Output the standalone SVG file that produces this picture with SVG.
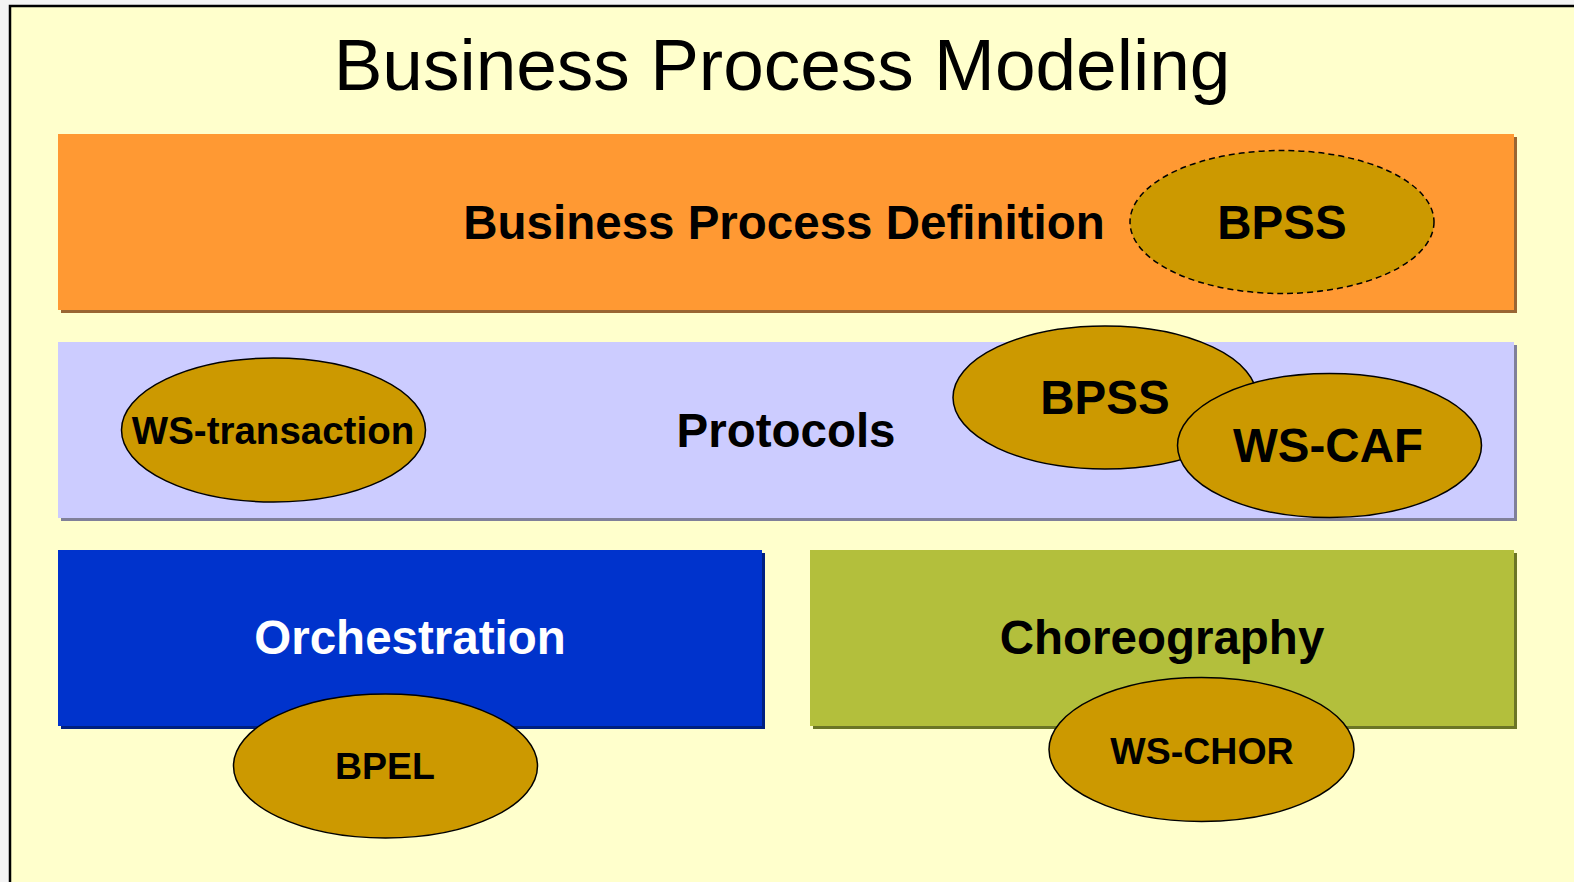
<svg xmlns="http://www.w3.org/2000/svg" width="1574" height="882" viewBox="0 0 1574 882">
<style>
.lbl{font-family:"Liberation Sans",Arial,sans-serif;font-weight:bold;text-anchor:middle;fill:#000}
.big{font-size:47.5px}
.sm{font-size:37.5px}
.ell{fill:#CC9900;stroke:#000;stroke-width:1.5}
</style>
<rect x="0" y="0" width="1574" height="882" fill="#F4F4F4"/>
<rect x="10" y="6" width="1600" height="900" fill="#FFFFCC" stroke="#000" stroke-width="2.5"/>
<text x="782" y="90" font-family="'Liberation Sans',Arial,sans-serif" font-size="73" text-anchor="middle" fill="#000">Business Process Modeling</text>

<g id="definition">
<rect x="61" y="137" width="1456" height="176" fill="#996633"/>
<rect x="58" y="134" width="1456" height="176" fill="#FF9933"/>
<text class="lbl big" x="784" y="239">Business Process Definition</text>
</g>
<g id="bpss-def">
<ellipse cx="1282" cy="222" rx="152" ry="71.5" fill="#CC9900" stroke="#000" stroke-width="1.5" stroke-dasharray="6,4"/>
<text class="lbl big" x="1282" y="239">BPSS</text>
</g>

<g id="protocols">
<rect x="61" y="345" width="1456" height="176" fill="#808099"/>
<rect x="58" y="342" width="1456" height="176" fill="#CCCCFF"/>
<text class="lbl big" x="786" y="447">Protocols</text>
</g>
<g id="ws-transaction">
<ellipse class="ell" cx="273.5" cy="430" rx="152" ry="72"/>
<text class="lbl" x="273" y="444" style="font-size:38.5px">WS-transaction</text>
</g>
<g id="bpss-proto">
<ellipse class="ell" cx="1105" cy="397.5" rx="152" ry="71.5"/>
<text class="lbl big" x="1105" y="414">BPSS</text>
</g>
<g id="ws-caf">
<ellipse class="ell" cx="1329.5" cy="445.5" rx="152" ry="72"/>
<text class="lbl big" x="1328" y="462">WS-CAF</text>
</g>

<g id="orchestration">
<rect x="61" y="553" width="704" height="176" fill="#002080"/>
<rect x="58" y="550" width="704" height="176" fill="#0033CC"/>
<text class="lbl big" x="410" y="654" style="fill:#FFFFFF">Orchestration</text>
</g>
<g id="choreography">
<rect x="813" y="553" width="704" height="176" fill="#6B7526"/>
<rect x="810" y="550" width="704" height="176" fill="#B3BF3C"/>
<text class="lbl big" x="1162" y="654">Choreography</text>
</g>
<g id="bpel">
<ellipse class="ell" cx="385.5" cy="766" rx="152" ry="72"/>
<text class="lbl sm" x="385" y="779">BPEL</text>
</g>
<g id="ws-chor">
<ellipse class="ell" cx="1201.5" cy="749.5" rx="152.5" ry="72"/>
<text class="lbl sm" x="1202" y="764">WS-CHOR</text>
</g>
<g id="connectors"></g>
</svg>
